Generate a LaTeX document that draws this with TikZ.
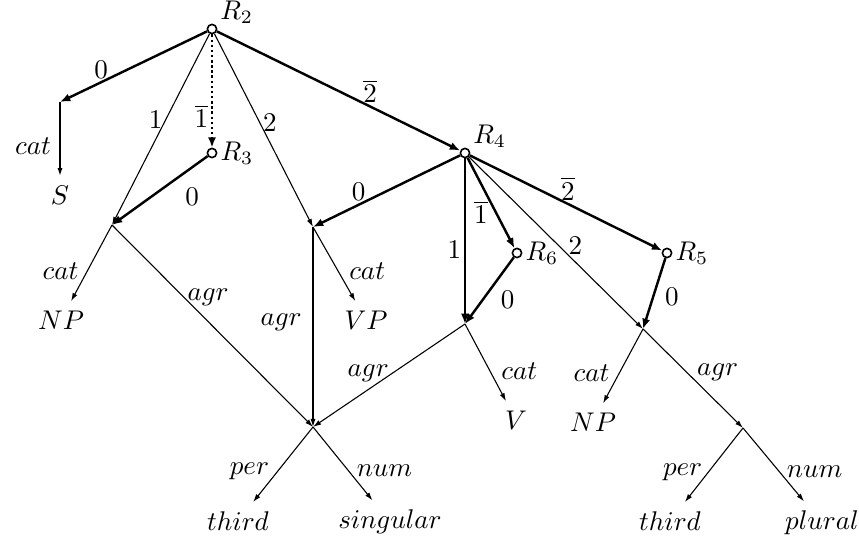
\documentclass[tikz,border=0pt]{standalone}
\usetikzlibrary{arrows.meta}

\begin{document}
\begin{tikzpicture}[x=0.013cm, y=-0.013cm,
  rnode/.style={draw, circle, line width=0.6pt, inner sep=0pt, minimum size=3.4pt},
  rel/.style={line width=0.9pt, -{Latex[length=3.8pt, width=3pt]}},
  feat/.style={line width=0.4pt, -{Latex[length=3pt, width=1.9pt]}},
  lab/.style={inner sep=1pt}
]
  \useasboundingbox (0,0) rectangle (859,541);
  % roles
  \node[rnode, label={[lab]20:$R_2$}]    (R2) at (212,29)  {};
  \node[rnode, label={[lab]east:$R_3$}]  (R3) at (212,153) {};
  \node[rnode, label={[lab]20:$R_4$}]    (R4) at (465,153) {};
  \node[rnode, label={[lab]east:$R_6$}]  (R6) at (517,253) {};
  \node[rnode, label={[lab]east:$R_5$}]  (R5) at (667,253) {};
  % feature structures
  \coordinate (A) at (60,102);
  \coordinate (B) at (112,225);
  \coordinate (C) at (313,227);
  \coordinate (D) at (465,324);
  \coordinate (E) at (643,329);
  \coordinate (F) at (743,428);
  \coordinate (X) at (313,427);
  % atomic values
  \node (S)   at (60,195)  {$S$};
  \node (np1) at (61,320)  {$NP$};
  \node (vp)  at (366,320) {$VP$};
  \node (v)   at (516,420) {$V$};
  \node (np2) at (593,422) {$NP$};
  \node (th1) at (238,521) {$third$};
  \node (sg)  at (390,522) {$singular$};
  \node (th2) at (670,521) {$third$};
  \node (pl)  at (822,523) {$plural$};
  % role arcs
  \draw[rel] (R2) -- node[lab, pos=.72, anchor=south] (l20) {$0$} (A);
  \draw[rel, densely dotted] (R2) -- node[lab, pos=.72, anchor=east] (l23) {$\overline{1}$} (R3);
  \draw[rel] (R2) -- node[lab, pos=.63, anchor=south] (l24) {$\overline{2}$} (R4);
  \draw[feat] (R2) -- node[lab, pos=.45, anchor=east] (l21) {$1$} (B);
  \draw[feat] (R2) -- node[lab, pos=.46, anchor=west] (l22) {$2$} (C);
  \draw[rel] (R3) -- node[lab, inner sep=3pt, pos=.33, anchor=north west] (l30) {$0$} (B);
  \draw[rel] (R4) -- node[lab, pos=.69, anchor=south] (l40) {$0$} (C);
  \draw[rel] (R4) -- node[lab, pos=.55, anchor=east] (l41) {$1$} (D);
  \draw[rel] (R4) -- node[lab, inner sep=2.5pt, pos=.6, anchor=east] (l46) {$\overline{1}$} (R6);
  \draw[rel] (R4) -- node[lab, pos=.51, anchor=south] (l45) {$\overline{2}$} (R5);
  \draw[feat] (R4) -- node[lab, inner sep=0pt, pos=.57, anchor=south west] (l42) {$2$} (E);
  \draw[rel] (R6) -- node[lab, inner sep=2pt, pos=.4, anchor=north west] (l60) {$0$} (D);
  \draw[rel] (R5) -- node[lab, inner sep=4pt, pos=.55, anchor=west] (l50) {$0$} (E);
  % feature arcs
  \draw[feat, line width=0.7pt] (A) -- node[lab, inner sep=3pt, pos=.6, anchor=east] (cA) {$cat$} (S);
  \draw[feat] (B) -- node[lab, inner sep=3pt, pos=.61, anchor=east] (cB) {$cat$} (np1);
  \draw[feat] (B) -- node[lab, pos=.36, anchor=west] (aB) {$agr$} (X);
  \draw[feat] (C) -- node[lab, inner sep=4pt, pos=.475, anchor=east] (aC) {$agr$} (X);
  \draw[feat] (C) -- node[lab, inner sep=4pt, pos=.59, anchor=west] (cC) {$cat$} (vp);
  \draw[feat] (D) -- node[lab, pos=.48, anchor=east] (aD) {$agr$} (X);
  \draw[feat] (D) -- node[lab, inner sep=4pt, pos=.61, anchor=west] (cD) {$cat$} (v);
  \draw[feat] (E) -- node[lab, inner sep=3.5pt, pos=.59, anchor=east] (cE) {$cat$} (np2);
  \draw[feat] (E) -- node[lab, inner sep=3.5pt, pos=.44, anchor=west] (aE) {$agr$} (F);
  \draw[feat] (F) -- node[lab, inner sep=2pt, pos=.6, anchor=east] (pF) {$per$} (th2);
  \draw[feat] (F) -- node[lab, inner sep=2.5pt, pos=.6, anchor=west] (nF) {$num$} (pl);
  \draw[feat] (X) -- node[lab, inner sep=3pt, pos=.59, anchor=east] (pX) {$per$} (th1);
  \draw[feat] (X) -- node[lab, inner sep=3pt, pos=.59, anchor=west] (nX) {$num$} (sg);
\end{tikzpicture}
\end{document}
